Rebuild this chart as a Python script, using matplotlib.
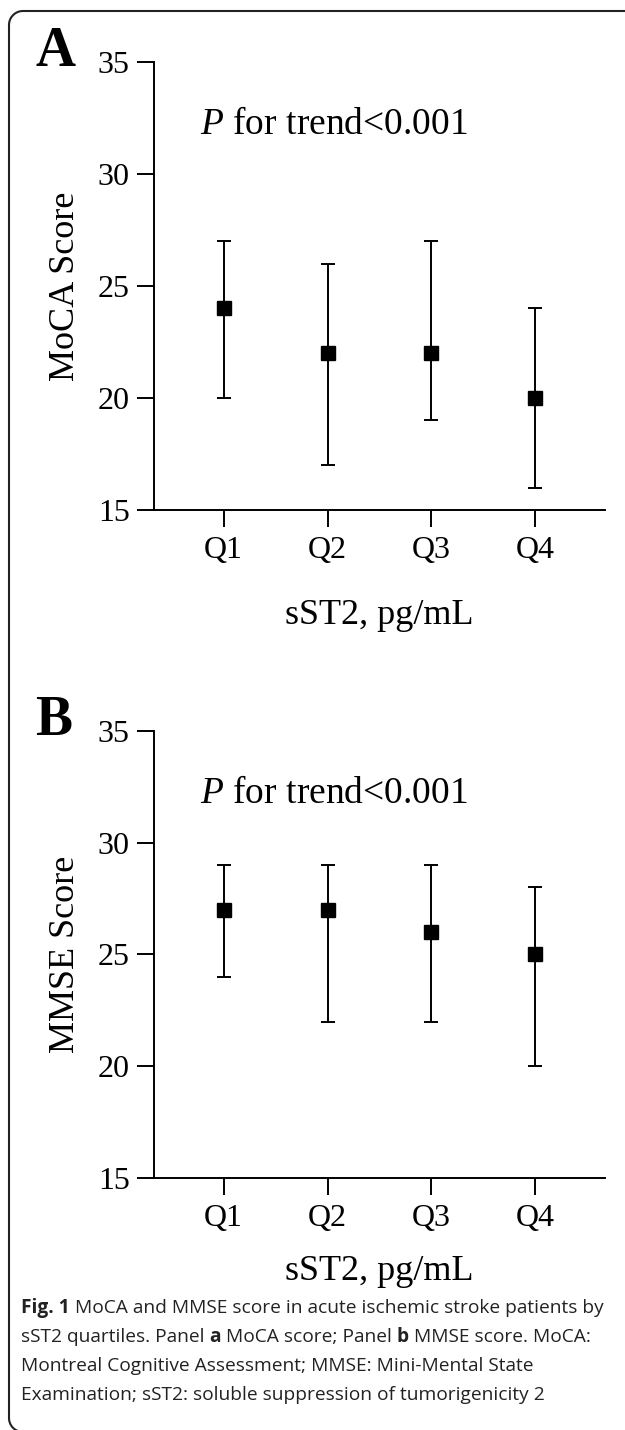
import numpy as np
import matplotlib
matplotlib.use('Agg')
import matplotlib.pyplot as plt
from matplotlib.lines import Line2D

# Data (median with lower / upper bounds)
quartiles = ['Q1', 'Q2', 'Q3', 'Q4']
moca_mid = [24, 22, 22, 20]
moca_low = [20, 17, 19, 16]
moca_high = [27, 26, 27, 24]
mmse_mid = [27, 27, 26, 25]
mmse_low = [24, 22, 22, 20]
mmse_high = [29, 29, 29, 28]
y_ticks = [15, 20, 25, 30, 35]
trend_text = r'$\it{P}$ for trend<0.001'
x_label = 'sST2, pg/mL'

W, H = 625, 1430
plt.rcParams['font.family'] = 'Liberation Serif'
plt.rcParams['mathtext.fontset'] = 'custom'
plt.rcParams['mathtext.it'] = 'Liberation Serif:italic'
plt.rcParams['mathtext.rm'] = 'Liberation Serif'

fig = plt.figure(figsize=(W / 100, H / 100), dpi=100)


def px_axes(left, top, right, bottom):
    return fig.add_axes([left / W, 1 - bottom / H, (right - left) / W, (bottom - top) / H])


# letter, y label, values, axis top/bottom (px), x-label centre (px)
panels = [
    ('A', 'MoCA Score', moca_mid, moca_low, moca_high, 62, 510, 616),
    ('B', 'MMSE Score', mmse_mid, mmse_low, mmse_high, 731, 1178, 1271),
]
xpos = list(range(1, len(quartiles) + 1))

for letter, ylabel, mid, low, high, top, bottom, xlab_y in panels:
    ax = px_axes(154, top, 605, bottom)
    yerr = [[m - l for m, l in zip(mid, low)], [h - m for m, h in zip(mid, high)]]
    ax.errorbar(xpos, mid, yerr=yerr, fmt='s', color='black', ms=9.5,
                capsize=4.7, elinewidth=1.4, capthick=1.4)
    ax.set_xlim(0.33, 4.67)
    ax.set_ylim(15, 35)
    ax.set_xticks(xpos)
    ax.set_xticklabels(quartiles)
    ax.set_yticks(y_ticks)
    for s in ['top', 'right']:
        ax.spines[s].set_visible(False)
    for s in ['left', 'bottom']:
        ax.spines[s].set_linewidth(1.4)
    ax.tick_params(direction='out', length=12.5, width=1.4, labelsize=23)
    ax.tick_params(axis='y', pad=5)
    ax.tick_params(axis='x', pad=6)
    ax.text(0.77, 32.2, trend_text, fontsize=27, va='center')

    fig.text(66 / W, 1 - (top + bottom) / 2 / H, ylabel, rotation=90,
             ha='center', va='center', fontsize=26)
    fig.text(379.5 / W, 1 - xlab_y / H, x_label,
             ha='center', va='center', fontsize=26)
    fig.text(35 / W, 1 - (top + 4) / H, letter, fontsize=40,
             fontweight='bold', va='baseline')

# Caption with mixed bold / regular runs
caption = [
    [('Fig. 1', 'bold'), (' MoCA and MMSE score in acute ischemic stroke patients by', 'normal')],
    [('sST2 quartiles. Panel ', 'normal'), ('a', 'bold'), (' MoCA score; Panel ', 'normal'),
     ('b', 'bold'), (' MMSE score. MoCA:', 'normal')],
    [('Montreal Cognitive Assessment; MMSE: Mini-Mental State', 'normal')],
    [('Examination; sST2: soluble suppression of tumorigenicity 2', 'normal')],
]
baselines = [1313, 1342, 1371, 1400]

renderer = fig.canvas.get_renderer()
for runs, base in zip(caption, baselines):
    xcur = 21
    for txt, weight in runs:
        t = fig.text(xcur / W, 1 - base / H, txt, family='Open Sans', fontsize=13.8,
                     fontweight=weight, color='#222222', va='baseline')
        xcur += t.get_window_extent(renderer).width

# Open frame (pixels): top edge from the right, rounded top-left corner,
# left edge, rounded bottom-left corner, bottom edge just below the picture
r = 14
left, top, bot = 9, 11, 1432
a = np.linspace(0, np.pi / 2, 20)
px = np.concatenate([[W], left + r - r * np.sin(a), left + r - r * np.cos(a), [W]])
py = np.concatenate([[top], top + r - r * np.cos(a), bot - r + r * np.sin(a), [bot]])
fig.add_artist(Line2D(px / W, 1 - py / H, transform=fig.transFigure, lw=1.5,
                      color='#222222', solid_joinstyle='round'))

fig.savefig('out.png', dpi=100)
